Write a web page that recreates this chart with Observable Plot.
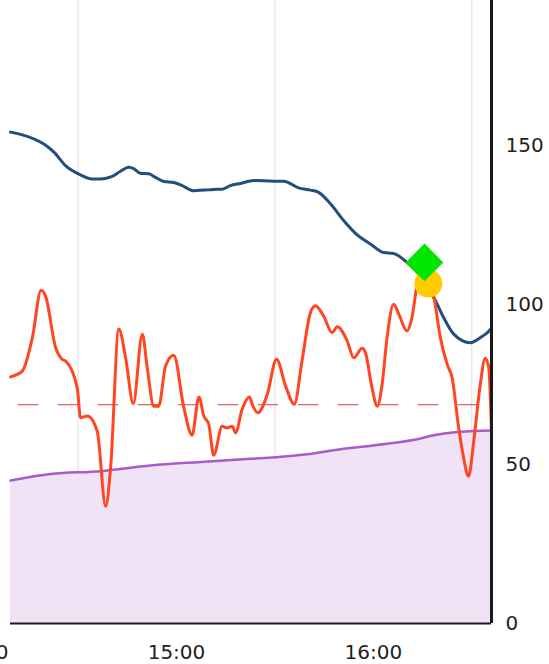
<!DOCTYPE html>
<html>
<head>
<meta charset="utf-8">
<script src="https://cdn.jsdelivr.net/npm/d3@7"></script>
<script src="https://cdn.jsdelivr.net/npm/@observablehq/plot@0.6"></script>
<style>
  html, body { margin: 0; padding: 0; background: #fff; }
  #chart svg { display: block; }
</style>
</head>
<body>
<div id="chart"></div>
<script>
// ---- data ----
const xDomain = ["14:09:25", "16:36:00"];
const xTickLabels = ["14:00", "15:00", "16:00"];
const xGridTimes = ["14:30", "15:30", "16:30"];
const yTicks = [0, 50, 100, 150];
const yMax = 195.5;

const redTimes = ["14:09:25","14:13:00","14:16:05","14:18:45","14:20:05","14:23:10","14:25:10","14:26:10","14:29:45","14:30:45",
  "14:32:50","14:35:50","14:38:25","14:39:55","14:42:25","14:44:30","14:46:50","14:49:35","14:51:05","14:53:05",
  "14:54:35","14:56:40","14:59:10","15:02:15","15:04:45","15:06:50","15:08:20","15:09:50","15:11:20","15:13:55",
  "15:15:25","15:17:00","15:18:00","15:20:00","15:22:15","15:23:05","15:24:45","15:27:40","15:30:30","15:33:15",
  "15:35:55","15:38:15","15:40:50","15:42:20","15:44:50","15:47:25","15:49:00","15:52:00","15:54:00","15:56:35",
  "15:57:35","15:59:35","16:01:10","16:02:40","16:04:10","16:06:10","16:07:45","16:10:15","16:11:45","16:13:30",
  "16:15:15","16:18:25","16:20:25","16:22:30","16:24:00","16:26:00","16:27:30","16:29:00","16:30:35","16:32:35",
  "16:34:05","16:35:10","16:36:00"];
const redValues = [77.4,79.2,89.7,104.6,102.8,86.6,82.9,82.4,74,64.6,
  65.1,60.4,36.8,48.8,92.4,83.4,69,90.8,80.3,68.2,
  68.2,80.8,84.2,67.7,59.1,71.1,65.1,62.5,52.8,61.9,
  61.4,61.9,59.8,67.2,71.1,68.8,66.1,71.9,82.9,74.5,
  68.8,82.4,97.6,99.7,96.5,91.3,93.1,88.7,83.4,86.4,
  85,74,68.2,75.1,89.7,100.2,97.1,91.8,96,107.5,
  113,102.8,89.7,81.3,77.1,61.4,52,46.2,57.2,75.1,
  83.2,80.3,60];

const blueTimes = ["14:09:25","14:12:30","14:16:30","14:19:35","14:22:40","14:26:10","14:30:45","14:34:20","14:36:50","14:40:25",
  "14:42:55","14:45:30","14:47:00","14:49:00","14:51:35","14:53:35","14:56:10","14:59:10","15:01:45","15:05:15",
  "15:08:20","15:11:20","15:13:55","15:16:25","15:19:30","15:23:35","15:29:40","15:32:40","15:37:15","15:40:50",
  "15:43:20","15:46:55","15:51:00","15:55:00","15:59:05","16:03:10","16:06:10","16:10:15","16:14:20","16:16:45",
  "16:18:55","16:21:25","16:24:30","16:29:35","16:32:35","16:35:40","16:36:00"];
const blueValues = [154.2,153.5,152.1,150.5,147.9,143.7,140.8,139.5,139.5,140.3,
  141.9,143.2,142.7,141.3,141.1,140.0,138.7,138.4,137.4,135.8,
  136,136.2,136.3,137.4,138.1,139,138.8,138.8,136.7,136,
  135.3,131.7,126.4,122,119.1,116.4,116.1,113.3,109,105,
  101.3,96,90.8,88.1,89.7,92.3,92.8];

const purpleTimes = ["14:09:25","14:21:40","14:36:50","14:52:05","15:07:20","15:22:35","15:30:10","15:39:50","15:47:55","16:04:10",
  "16:13:20","16:18:25","16:26:30","16:36:00"];
const purpleValues = [44.9,46.9,47.8,49.6,50.7,51.7,52.2,53.1,54.4,56.4,57.8,59.1,60.2,60.6];

const thresholdValue = 68.7;
const diamondTime = "16:15:35", diamondValue = 113.3;
const circleTime = "16:16:45", circleValue = 106.7;

// ---- build ----
const parse = s => new Date(`2024-01-01T${s.length === 5 ? s + ":00" : s}Z`);
const series = (times, values) => times.map((t, i) => ({t: parse(t), v: values[i]}));
const red = series(redTimes, redValues);
const blue = series(blueTimes, blueValues);
const purple = series(purpleTimes, purpleValues);
const xd = xDomain.map(parse);

const chart = Plot.plot({
  width: 549,
  height: 664,
  marginLeft: 10,
  marginRight: 58,
  marginTop: 0,
  marginBottom: 41,
  style: {fontFamily: "DejaVu Sans, Verdana, sans-serif", fontSize: "20px", color: "#222", background: "#fff"},
  x: {type: "utc", domain: xd, label: null},
  y: {domain: [0, yMax], label: null},
  marks: [
    Plot.ruleX(xGridTimes.map(parse), {stroke: "#dcdcdc", strokeWidth: 1}),
    Plot.areaY(purple, {x: "t", y: "v", fill: "#f0e3f5", curve: "monotone-x"}),
    Plot.lineY(purple, {x: "t", y: "v", stroke: "#a95bcc", strokeWidth: 2.5, curve: "monotone-x"}),
    Plot.ruleY([thresholdValue], {stroke: "#e06565", strokeWidth: 1.2, strokeDasharray: "20,20", strokeDashoffset: 32}),
    Plot.lineY(blue, {x: "t", y: "v", stroke: "#214f7d", strokeWidth: 3, curve: "monotone-x"}),
    Plot.lineY(red, {x: "t", y: "v", stroke: "#ff4521", strokeWidth: 3, curve: "monotone-x"}),
    Plot.dot([{t: parse(circleTime), v: circleValue}], {x: "t", y: "v", r: 14, fill: "#ffcc00"}),
    Plot.dot([{t: parse(diamondTime), v: diamondValue}], {x: "t", y: "v", r: 17, symbol: "diamond2", fill: "#00e600"}),
    Plot.ruleY([0], {stroke: "#1a1a1a", strokeWidth: 2}),
    Plot.ruleX([xd[1]], {stroke: "#1a1a1a", strokeWidth: 3}),
    Plot.axisY(yTicks, {anchor: "right", tickSize: 0, tickPadding: 14, fill: "#222", label: null}),
    Plot.axisX(xTickLabels.map(parse), {anchor: "bottom", tickSize: 0, tickPadding: 21, fill: "#222", label: null, tickFormat: d3.utcFormat("%H:%M")})
  ]
});
document.getElementById("chart").appendChild(chart);
</script>
</body>
</html>
